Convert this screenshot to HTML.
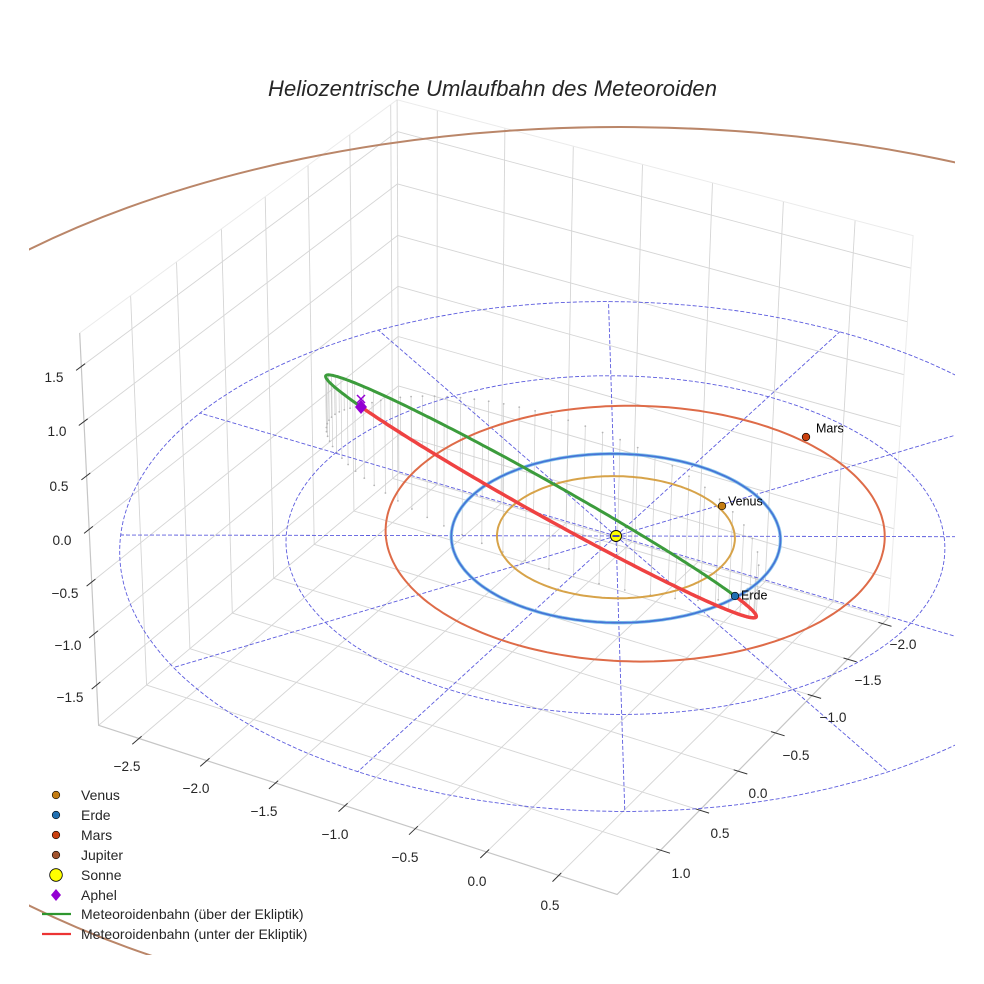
<!DOCTYPE html>
<html>
<head>
<meta charset="utf-8">
<style>
html,body{margin:0;padding:0;background:#fff;}
svg{display:block;}
text{font-family:"Liberation Sans",Arial,sans-serif;fill:#262626;}
</style>
</head>
<body>
<svg id="s" width="984" height="984" viewBox="0 0 984 984" xmlns="http://www.w3.org/2000/svg">
<defs>
<clipPath id="cp"><rect x="29" y="29" width="926" height="926"/></clipPath>
</defs>
<rect width="984" height="984" fill="#fff"/>
<g id="grid" fill="none"></g>
<g id="ticks" fill="none"></g>
<g id="drop" clip-path="url(#cp)" fill="none"></g>
<g id="eclip" clip-path="url(#cp)" fill="none"></g>
<g clip-path="url(#cp)" fill="none">
  <ellipse cx="620" cy="577.5" rx="862" ry="450.5" stroke="#ba8669" stroke-width="2"/>
</g>
<g id="planets" clip-path="url(#cp)" fill="none"></g>
<g id="met" clip-path="url(#cp)" fill="none"></g>

<!-- Sun -->
<circle cx="616" cy="536" r="5.5" fill="#ffff00" stroke="#000" stroke-width="0.9"/>
<line x1="612.5" y1="536" x2="619.5" y2="536" stroke="#4a4aa8" stroke-width="2"/>

<!-- planet markers -->
<circle cx="722" cy="506" r="3.8" fill="#c47c12" stroke="#000" stroke-width="0.7"/>
<circle cx="735" cy="596" r="3.8" fill="#1f6fb2" stroke="#000" stroke-width="0.7"/>
<circle cx="806" cy="437" r="3.8" fill="#c9400f" stroke="#000" stroke-width="0.7"/>
<text x="728" y="505.5" font-size="12.5" style="fill:#000">Venus</text>
<text x="741" y="599.5" font-size="12.5" style="fill:#000">Erde</text>
<text x="816" y="432.5" font-size="12.5" style="fill:#000">Mars</text>

<!-- Aphel -->
<polygon points="361,400 367,407 361,414 355,407" fill="#9400d3"/>
<line x1="357" y1="395" x2="365" y2="403" stroke="#9400d3" stroke-width="1.5"/>
<line x1="365" y1="395" x2="357" y2="403" stroke="#9400d3" stroke-width="1.5"/>

<!-- Title -->
<text x="492.5" y="96" font-size="22" font-style="italic" text-anchor="middle" textLength="449" lengthAdjust="spacing">Heliozentrische Umlaufbahn des Meteoroiden</text>

<!-- z tick labels -->
<g font-size="13.6" text-anchor="middle">
<text x="54" y="382">1.5</text>
<text x="57" y="436">1.0</text>
<text x="59" y="491">0.5</text>
<text x="62" y="545">0.0</text>
<text x="65" y="598">−0.5</text>
<text x="68" y="650">−1.0</text>
<text x="70" y="702">−1.5</text>
<!-- x tick labels -->
<text x="127" y="771">−2.5</text>
<text x="196" y="793">−2.0</text>
<text x="264" y="816">−1.5</text>
<text x="335" y="839">−1.0</text>
<text x="405" y="862">−0.5</text>
<text x="477" y="886">0.0</text>
<text x="550" y="910">0.5</text>
<!-- y tick labels -->
<text x="903" y="649">−2.0</text>
<text x="868" y="685">−1.5</text>
<text x="833" y="722">−1.0</text>
<text x="796" y="760">−0.5</text>
<text x="758" y="798">0.0</text>
<text x="720" y="838">0.5</text>
<text x="681" y="878">1.0</text>
</g>

<!-- Legend -->
<circle cx="56" cy="795" r="3.8" fill="#c47c12" stroke="#000" stroke-width="0.6"/>
<circle cx="56" cy="815" r="3.8" fill="#1f6fb2" stroke="#000" stroke-width="0.6"/>
<circle cx="56" cy="835" r="3.8" fill="#c9400f" stroke="#000" stroke-width="0.6"/>
<circle cx="56" cy="855" r="3.8" fill="#a0522d" stroke="#000" stroke-width="0.6"/>
<circle cx="56" cy="875" r="6.3" fill="#ffff00" stroke="#000" stroke-width="0.8"/>
<polygon points="56,889 61,895 56,901 51,895" fill="#9400d3"/>
<line x1="42" y1="914" x2="71" y2="914" stroke="#2e962e" stroke-width="2.2"/>
<line x1="42" y1="934" x2="71" y2="934" stroke="#ec3434" stroke-width="2.2"/>
<g font-size="14">
<text x="81" y="800">Venus</text>
<text x="81" y="820">Erde</text>
<text x="81" y="840">Mars</text>
<text x="81" y="860">Jupiter</text>
<text x="81" y="880">Sonne</text>
<text x="81" y="900">Aphel</text>
<text x="81" y="919">Meteoroidenbahn (über der Ekliptik)</text>
<text x="81" y="939">Meteoroidenbahn (unter der Ekliptik)</text>
</g>
</svg>
<script>
(function(){
var NS='http://www.w3.org/2000/svg';
function P(X,Y,Z){var W=1-0.0123*X-0.02387*Y-0.015*Z;return[(136.2*X-94.6*Y-6.46*Z+616)/W,(35.9*X+60.15*Y-113.8*Z+536)/W];}
var X0=-2.8,X1=0.9,Y0=-2.08,Y1=1.54,Z0=-1.9,Z1=1.8;
function pf(pts){var s='';for(var i=0;i<pts.length;i++){s+=(i?'L':'M')+pts[i][0].toFixed(1)+' '+pts[i][1].toFixed(1);}return s;}
function add(g,d,stroke,w,extra){var e=document.createElementNS(NS,'path');e.setAttribute('d',d);e.setAttribute('stroke',stroke);e.setAttribute('stroke-width',w);e.setAttribute('fill','none');if(extra){for(var k in extra)e.setAttribute(k,extra[k]);}g.appendChild(e);return e;}
var xt=[-2.5,-2,-1.5,-1,-0.5,0,0.5],yt=[-2,-1.5,-1,-0.5,0,0.5,1],zt=[-1.5,-1,-0.5,0,0.5,1,1.5];
var G=document.getElementById('grid');var gc='#d5d5d5';
xt.forEach(function(x){add(G,pf([P(x,Y0,Z0),P(x,Y1,Z0)]),gc,0.9);add(G,pf([P(x,Y0,Z0),P(x,Y0,Z1)]),gc,0.9);});
yt.forEach(function(y){add(G,pf([P(X0,y,Z0),P(X1,y,Z0)]),gc,0.9);add(G,pf([P(X0,y,Z0),P(X0,y,Z1)]),gc,0.9);});
zt.forEach(function(z){add(G,pf([P(X0,Y0,z),P(X0,Y1,z)]),gc,0.9);add(G,pf([P(X0,Y0,z),P(X1,Y0,z)]),gc,0.9);});
add(G,pf([P(X0,Y1,Z1),P(X0,Y0,Z1),P(X1,Y0,Z1),P(X1,Y0,Z0)]),'#ebebeb',1);
add(G,pf([P(X0,Y0,Z0),P(X0,Y0,Z1)]),gc,0.9);
add(G,pf([P(X0,Y1,Z0),P(X0,Y0,Z0),P(X1,Y0,Z0)]),gc,0.9);
add(G,pf([P(X0,Y1,Z1),P(X0,Y1,Z0),P(X1,Y1,Z0),P(X1,Y0,Z0)]),'#c6c6c6',1.2);
var T=document.getElementById('ticks');
xt.forEach(function(x){add(T,pf([P(x,Y1-0.03,Z0),P(x,Y1+0.075,Z0)]),'#333',1);});
yt.forEach(function(y){add(T,pf([P(X1-0.03,y,Z0),P(X1+0.065,y,Z0)]),'#333',1);});
zt.forEach(function(z){add(T,pf([P(X0,Y1-0.04,z),P(X0,Y1+0.055,z)]),'#333',1);});
function circ(cx,cy,r,n){var a=[];for(var i=0;i<=n;i++){var t=2*Math.PI*i/n;a.push(P(cx+r*Math.cos(t),cy+r*Math.sin(t),0));}return a;}
var E=document.getElementById('eclip');var dc='#5c5cde';
[2,3].forEach(function(r){add(E,pf(circ(0,0,r,360)),dc,0.9,{'stroke-dasharray':'4 2'});});
for(var k=0;k<12;k++){var t=k*Math.PI/6;add(E,pf([P(0,0,0),P(3*Math.cos(t),3*Math.sin(t),0)]),dc,0.9,{'stroke-dasharray':'4 2'});}
var PL=document.getElementById('planets');
add(PL,pf(circ(0,0,0.723,240)),'#d7a349',2);
add(PL,pf(circ(0,0,1.0,240)),'#8fc4ee',3.4);
add(PL,pf(circ(0,0,1.0,240)),'#3a80d2',1.8);
add(PL,pf(circ(0,0,1.0,360)),'#5c5cde',0.9,{'stroke-dasharray':'4 2','stroke-opacity':'0.7'});
add(PL,pf(circ(0.059,-0.138,1.52,240)),'#de6b48',2);
var Om=15*Math.PI/180,inc=53*Math.PI/180,om=-5*Math.PI/180,ecc=0.3861,pp=1.3846;
var ci=Math.cos(inc),si=Math.sin(inc),cO=Math.cos(Om),sO=Math.sin(Om);
function orb(u){var r=pp/(1+ecc*Math.cos(u-om));var sn=r*Math.cos(u),sw=r*Math.sin(u);return[sn*cO-sw*ci*sO,sn*sO+sw*ci*cO,sw*si];}
var D=document.getElementById('drop');var N=70;
for(var k=0;k<N;k++){var M=2*Math.PI*(k+0.5)/N;var Ea=M;for(var it=0;it<40;it++){Ea=Ea-(Ea-ecc*Math.sin(Ea)-M)/(1-ecc*Math.cos(Ea));}
var nu=2*Math.atan2(Math.sqrt(1+ecc)*Math.sin(Ea/2),Math.sqrt(1-ecc)*Math.cos(Ea/2));var q=orb(nu+om);
var a=P(q[0],q[1],q[2]),b0=P(q[0],q[1],0);var f=q[2]>0?0.75:1.0;var b=[a[0]+(b0[0]-a[0])*f,a[1]+(b0[1]-a[1])*f];
add(D,pf([a,b]),'#cdcdcd',0.7);
var c=document.createElementNS(NS,'circle');c.setAttribute('cx',b[0].toFixed(1));c.setAttribute('cy',b[1].toFixed(1));c.setAttribute('r','0.9');c.setAttribute('fill','#b4b4b4');D.appendChild(c);}
var MT=document.getElementById('met');var gp=[],rp=[];
for(var d=0;d<=180;d+=1){var q=orb(d*Math.PI/180);gp.push(P(q[0],q[1],q[2]));}
for(var d=180;d<=360;d+=1){var q=orb(d*Math.PI/180);rp.push(P(q[0],q[1],q[2]));}
add(MT,pf(gp),'#3c9c3c',3,{'stroke-linecap':'round'});
add(MT,pf(rp),'#ef4242',3.5,{'stroke-linecap':'round'});
})();
</script>
</body>
</html>
